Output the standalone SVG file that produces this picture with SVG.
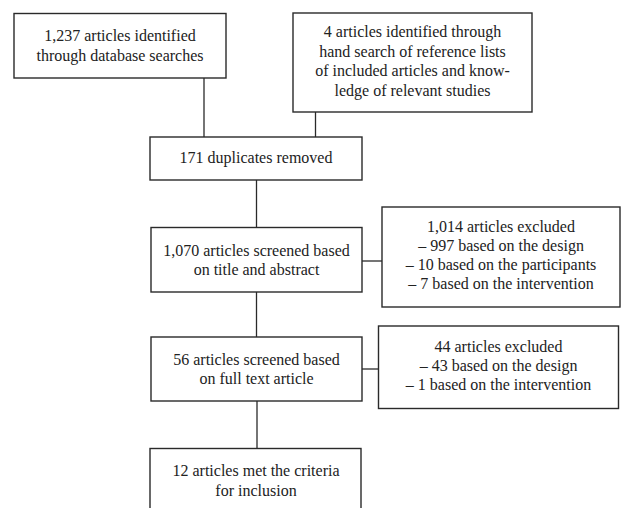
<svg xmlns="http://www.w3.org/2000/svg" width="621" height="508" viewBox="0 0 621 508">
<style>
.box{fill:#fff;stroke:#2a2a2a;stroke-width:1.4}
.t{font-family:"Liberation Serif","Times New Roman",serif;font-size:16px;fill:#222;text-anchor:middle}
.c{stroke:#2a2a2a;stroke-width:1.3;fill:none}
</style>
<rect width="621" height="508" fill="#fff"/>
<g id="connectors">
<line class="c" x1="204" y1="78" x2="204" y2="137"/>
<line class="c" x1="315.5" y1="112" x2="315.5" y2="137"/>
<line class="c" x1="256.5" y1="180" x2="256.5" y2="227"/>
<line class="c" x1="362" y1="261" x2="382" y2="261"/>
<line class="c" x1="256.5" y1="292" x2="256.5" y2="337"/>
<line class="c" x1="362" y1="369" x2="378.5" y2="369"/>
<line class="c" x1="257" y1="401" x2="257" y2="448.5"/>
</g>
<g id="n1">
<rect class="box" x="14" y="13.5" width="212" height="64.5"/>
<text class="t" x="120" y="41">1,237 articles identified</text>
<text class="t" x="120" y="61">through database searches</text>
</g>
<g id="n2">
<rect class="box" x="293" y="13" width="239" height="99"/>
<text class="t" x="412.5" y="37">4 articles identified through</text>
<text class="t" x="412.5" y="56.5">hand search of reference lists</text>
<text class="t" x="412.5" y="76">of included articles and know-</text>
<text class="t" x="412.5" y="95.5">ledge of relevant studies</text>
</g>
<g id="n3">
<rect class="box" x="150" y="137" width="212" height="43"/>
<text class="t" x="256" y="163">171 duplicates removed</text>
</g>
<g id="n4">
<rect class="box" x="151" y="227.5" width="211" height="64.5"/>
<text class="t" x="256.5" y="256">1,070 articles screened based</text>
<text class="t" x="256.5" y="275">on title and abstract</text>
</g>
<g id="n5">
<rect class="box" x="382" y="207" width="238" height="100"/>
<text class="t" x="501" y="232">1,014 articles excluded</text>
<text class="t" x="501" y="251">– 997 based on the design</text>
<text class="t" x="501" y="270">– 10 based on the participants</text>
<text class="t" x="501" y="289">– 7 based on the intervention</text>
</g>
<g id="n6">
<rect class="box" x="151" y="337" width="211" height="64"/>
<text class="t" x="256.5" y="365">56 articles screened based</text>
<text class="t" x="256.5" y="384">on full text article</text>
</g>
<g id="n7">
<rect class="box" x="378.5" y="326" width="240" height="82.5"/>
<text class="t" x="498.5" y="352">44 articles excluded</text>
<text class="t" x="498.5" y="371">– 43 based on the design</text>
<text class="t" x="498.5" y="390">– 1 based on the intervention</text>
</g>
<g id="n8">
<rect class="box" x="150" y="448.5" width="211" height="80"/>
<text class="t" x="256" y="476">12 articles met the criteria</text>
<text class="t" x="256" y="495.5">for inclusion</text>
</g>
</svg>
